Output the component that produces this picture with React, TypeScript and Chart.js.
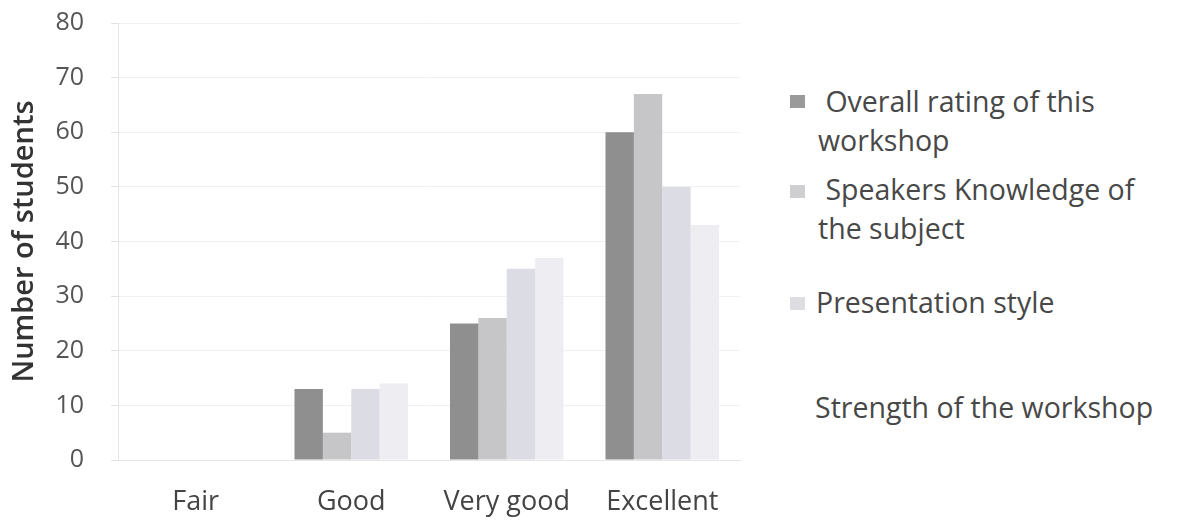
import React, { useEffect, useRef } from "react";
import { Chart, registerables } from "chart.js";

Chart.register(...registerables);

const categories = ["Fair", "Good", "Very good", "Excellent"];
const overallRating = [0, 13, 25, 60];
const speakersKnowledge = [0, 5, 26, 67];
const presentationStyle = [0, 13, 35, 50];
const strengthOfWorkshop = [0, 14, 37, 43];
const yTicks = [0, 10, 20, 30, 40, 50, 60, 70, 80];

const seriesNames = [
  "Overall rating of this workshop",
  "Speakers Knowledge of the subject",
  "Presentation style",
  "Strength of the workshop",
];
const seriesColors = ["#8f8f8f", "#c6c6c9", "#dcdce4", "#ededf2"];

const FONT = "'Open Sans', 'DejaVu Sans', sans-serif";

export default function App() {
  const canvasRef = useRef<HTMLCanvasElement | null>(null);

  useEffect(() => {
    if (!canvasRef.current) return;
    const values = [overallRating, speakersKnowledge, presentationStyle, strengthOfWorkshop];
    const chart = new Chart(canvasRef.current, {
      type: "bar",
      data: {
        labels: categories,
        datasets: values.map((v, i) => ({
          label: seriesNames[i],
          data: v,
          backgroundColor: seriesColors[i],
          borderWidth: 0,
          categoryPercentage: 0.73,
          barPercentage: 1,
        })),
      },
      options: {
        responsive: false,
        animation: false,
        layout: { padding: { top: 23, right: 20, left: 0, bottom: 0 } },
        plugins: {
          legend: { display: false },
          tooltip: { enabled: false },
        },
        scales: {
          x: {
            afterFit: (axis: any) => {
              axis.height = 67;
              axis.paddingLeft = 0;
              axis.paddingRight = 0;
            },
            grid: { display: false, drawTicks: false },
            border: { display: true, color: "#e6e6e6" },
            ticks: { font: { family: FONT, size: 27 }, color: "#444", padding: 26 },
          },
          y: {
            min: 0,
            max: 80,
            afterFit: (axis: any) => {
              axis.width = 118;
              axis.paddingTop = 0;
              axis.paddingBottom = 0;
            },
            afterBuildTicks: (axis: any) => {
              axis.ticks = yTicks.map((t) => ({ value: t }));
            },
            grid: { color: "#f0f0f0", tickLength: 7, tickColor: "#e2e2e2" },
            border: { display: true, color: "#e6e6e6" },
            ticks: { font: { family: FONT, size: 25 }, color: "#555", padding: 27 },
            title: {
              display: true,
              text: "Number of students",
              font: { family: FONT, size: 29, weight: "600" },
              color: "#333",
              padding: { top: 7, bottom: 0 },
            },
          },
        },
      },
    });
    return () => chart.destroy();
  }, []);

  const legendText: React.CSSProperties = {
    position: "absolute",
    fontFamily: FONT,
    fontSize: 28.5,
    color: "#484848",
    lineHeight: "39px",
    whiteSpace: "nowrap",
  };
  const box = (top: number, color: string): React.CSSProperties => ({
    position: "absolute",
    left: 790,
    top,
    width: 15,
    height: 13,
    background: color,
  });

  return (
    <div style={{ position: "absolute", left: 0, top: 0, width: 1177, height: 527, background: "#fff" }}>
      <canvas ref={canvasRef} width={760} height={527} style={{ position: "absolute", left: 0, top: 0 }} />
      <div style={box(95, "#9a9a9a")} />
      <div style={{ ...legendText, left: 818, top: 82 }}>
        <div>&nbsp;Overall rating of this</div>
        <div>workshop</div>
      </div>
      <div style={box(185, "#cfcfd1")} />
      <div style={{ ...legendText, left: 818, top: 170 }}>
        <div>&nbsp;Speakers Knowledge of</div>
        <div>the subject</div>
      </div>
      <div style={box(297, "#dedee2")} />
      <div style={{ ...legendText, left: 816, top: 283 }}>Presentation style</div>
      <div style={{ ...legendText, left: 815, top: 388 }}>Strength of the workshop</div>
    </div>
  );
}
